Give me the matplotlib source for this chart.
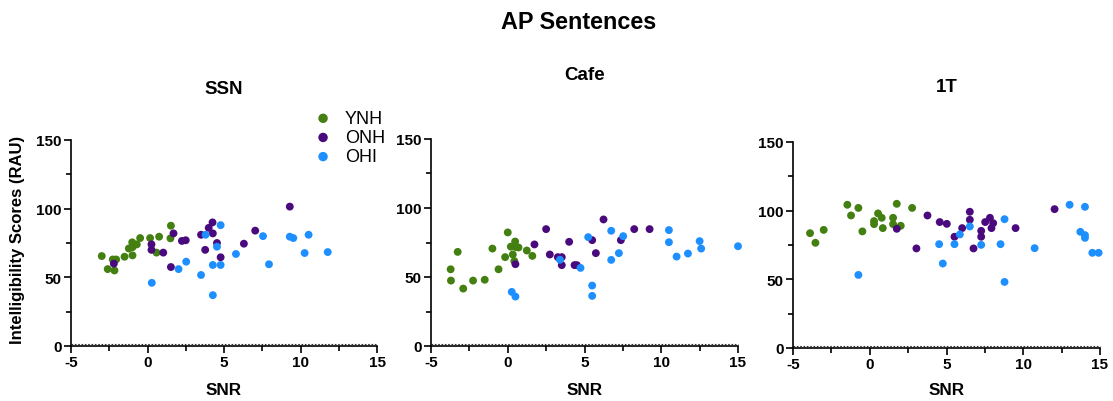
import matplotlib
matplotlib.use("Agg")
import matplotlib.pyplot as plt
import matplotlib.transforms as mtransforms
from matplotlib.ticker import MultipleLocator

plt.rcParams['font.family'] = ['Liberation Sans', 'DejaVu Sans']
plt.rcParams['axes.unicode_minus'] = False

# group colours
GREEN = '#437F11'
PURPLE = '#4A0A7E'
BLUE = '#1E8FFF'

groups = ['YNH', 'ONH', 'OHI']
colors = [GREEN, PURPLE, BLUE]

# ---- SSN ----
ssn_ynh_x = [-2.99, -2.6, -2.27, -2.05, -2.16, -1.5, -1.22, -1.0, -0.98, -0.98,
             -0.7, -0.48, 0.17, 0.76, 0.59, 1.53, 1.5]
ssn_ynh_y = [65.5, 56, 63, 63, 55, 65, 71, 75.5, 66, 72,
             74, 78.6, 78.6, 79.6, 68, 87.6, 78.4]
ssn_onh_x = [-2.2, 0.26, 0.26, 1.03, 1.53, 1.7, 2.25, 2.5, 3.5, 4.0,
             4.25, 4.27, 3.77, 4.54, 4.78, 7.04, 6.3, 9.3]
ssn_onh_y = [60, 74, 70, 68, 57.5, 82, 76.5, 77, 81, 86,
             90, 82, 70, 75, 64.6, 84, 74.5, 101.5]
ssn_ohi_x = [0.28, 2.03, 2.53, 3.5, 3.8, 4.27, 4.27, 4.54, 4.78, 4.78,
             5.78, 7.55, 7.94, 9.3, 9.53, 10.27, 10.53, 11.78]
ssn_ohi_y = [46, 56, 61.4, 51.7, 81, 59, 37, 72.3, 88, 59,
             67, 80, 59.5, 79.6, 78.6, 67.7, 81, 68.4]

# ---- Cafe ----
cafe_ynh_x = [-3.72, -3.7, -3.26, -2.9, -2.26, -1.5, -1.0, -0.6, -0.17, 0.0,
              0.2, 0.33, 0.48, 0.43, 0.52, 0.7, 1.24, 1.6]
cafe_ynh_y = [55.6, 47.4, 68.2, 41.6, 47.4, 48, 70.6, 55.6, 64.4, 82.3,
              72, 66.3, 75.7, 61.5, 71.7, 71.4, 69.2, 65.3]
cafe_onh_x = [0.5, 1.74, 2.5, 2.74, 3.26, 3.52, 3.52, 4.0, 4.35, 4.5,
              5.5, 5.74, 6.24, 7.37, 8.24, 9.24]
cafe_onh_y = [59.3, 73.6, 84.7, 66.3, 64.4, 64.4, 58.6, 75.5, 58.6, 58.6,
              76.7, 67.3, 91.7, 76.7, 84.7, 84.7]
cafe_ohi_x = [0.26, 0.5, 3.4, 4.74, 5.24, 5.5, 5.5, 6.74, 6.74, 7.24,
              7.52, 10.5, 10.5, 11.0, 11.74, 12.5, 12.6, 15.0]
cafe_ohi_y = [39.2, 35.8, 62.5, 56.6, 78.9, 43.8, 36.3, 83.5, 62.4, 67.3,
              79.6, 84, 75.2, 64.8, 67, 76, 70.6, 72.3]

# ---- 1T ----
t1_ynh_x = [-3.89, -3.54, -3.0, -1.46, -1.22, -0.74, -0.48, 0.28, 0.28, 0.54,
            0.78, 0.85, 1.52, 1.52, 1.76, 2.02, 2.76]
t1_ynh_y = [83.6, 76.6, 86, 104.3, 96.5, 102, 84.9, 92.4, 90.2, 98,
            94.8, 87.3, 94.8, 90.2, 105, 89, 102]
t1_onh_x = [1.76, 3.04, 3.76, 4.56, 5.02, 5.52, 6.02, 6.52, 6.52, 6.76,
            7.26, 7.26, 7.52, 7.83, 7.93, 8.04, 9.5, 12.04]
t1_onh_y = [86.8, 72.5, 96.5, 91.7, 90.4, 81, 87.3, 99.2, 93.4, 72.5,
            85.3, 81, 91.7, 94.8, 87.3, 90.9, 87.3, 101.1]
t1_ohi_x = [-0.74, 4.52, 4.76, 5.52, 5.87, 6.52, 7.26, 8.52, 8.78, 8.78,
            10.74, 13.02, 14.02, 13.72, 14.02, 14.02, 14.5, 14.91]
t1_ohi_y = [53.2, 75.6, 61.5, 75.6, 82.7, 88.5, 75.1, 75.6, 93.8, 48.1,
            72.7, 104.3, 102.8, 84.6, 82.2, 80.2, 69.3, 69.3]

panels = [
    ('SSN', [(ssn_ynh_x, ssn_ynh_y), (ssn_onh_x, ssn_onh_y), (ssn_ohi_x, ssn_ohi_y)]),
    ('Cafe', [(cafe_ynh_x, cafe_ynh_y), (cafe_onh_x, cafe_onh_y), (cafe_ohi_x, cafe_ohi_y)]),
    ('1T', [(t1_ynh_x, t1_ynh_y), (t1_onh_x, t1_onh_y), (t1_ohi_x, t1_ohi_y)]),
]

W, H = 1113, 402
fig = plt.figure(figsize=(W / 100, H / 100), dpi=100)

# axes boxes in pixels: left, right, top (y=150), bottom (y=0)
boxes = [(71, 377, 141, 347), (431, 738, 140, 347), (793, 1100, 143, 349)]
title_y = [90, 75, 88]

axes = []
for (name, series), (l, r, t, b), ty in zip(panels, boxes, title_y):
    ax = fig.add_axes([l / W, 1 - b / H, (r - l) / W, (b - t) / H])
    for (xs, ys), c, g in zip(series, colors, groups):
        ax.scatter(xs, ys, s=32, color=c, edgecolors='none', label=g,
                   clip_on=False, zorder=3)
    ax.set_xlim(-5, 15)
    ax.set_ylim(0, 150)
    ax.xaxis.set_major_locator(MultipleLocator(5))
    ax.xaxis.set_minor_locator(MultipleLocator(2.5))
    ax.yaxis.set_major_locator(MultipleLocator(50))
    ax.yaxis.set_minor_locator(MultipleLocator(25))
    for side in ['top', 'right']:
        ax.spines[side].set_visible(False)
    for side in ['left', 'bottom']:
        ax.spines[side].set_linewidth(1.2)
    ax.tick_params(which='major', length=5, width=1.2, direction='out',
                   labelsize=11, pad=1.5)
    ax.tick_params(which='minor', length=3.5, width=1.2, direction='out')
    for lab in ax.get_xticklabels() + ax.get_yticklabels():
        lab.set_fontweight('bold')
    # dotted zero line sitting just above the x axis
    off = mtransforms.offset_copy(ax.transData, fig=fig, x=0, y=1.2, units='points')
    ax.plot([-5, 15], [0, 0], ls=(0, (1.5, 1.5)), lw=0.8, color='#333333',
            transform=off, clip_on=False)
    cx = (l + r) / 2
    fig.text(cx / W, 1 - ty / H, name, ha='center', va='center',
             fontsize=13.5, fontweight='bold')
    fig.text(cx / W, 1 - 391 / H, 'SNR', ha='center', va='center',
             fontsize=12.3, fontweight='bold')
    axes.append(ax)

fig.text(579 / W, 1 - 22.5 / H, 'AP Sentences', ha='center', va='center',
         fontsize=16.8, fontweight='bold')
fig.text(18 / W, 1 - 240 / H, 'Intelligibility Scores (RAU)', rotation=90,
         ha='center', va='center', fontsize=12, fontweight='bold')

leg = axes[0].legend(loc='upper left', bbox_to_anchor=(305 / W, 1 - 102 / H),
                     bbox_transform=fig.transFigure, frameon=False,
                     fontsize=13, handletextpad=0.7, labelspacing=0.12,
                     markerscale=1.2, handlelength=1.0, borderpad=0)

fig.savefig('out.png', dpi=100)
